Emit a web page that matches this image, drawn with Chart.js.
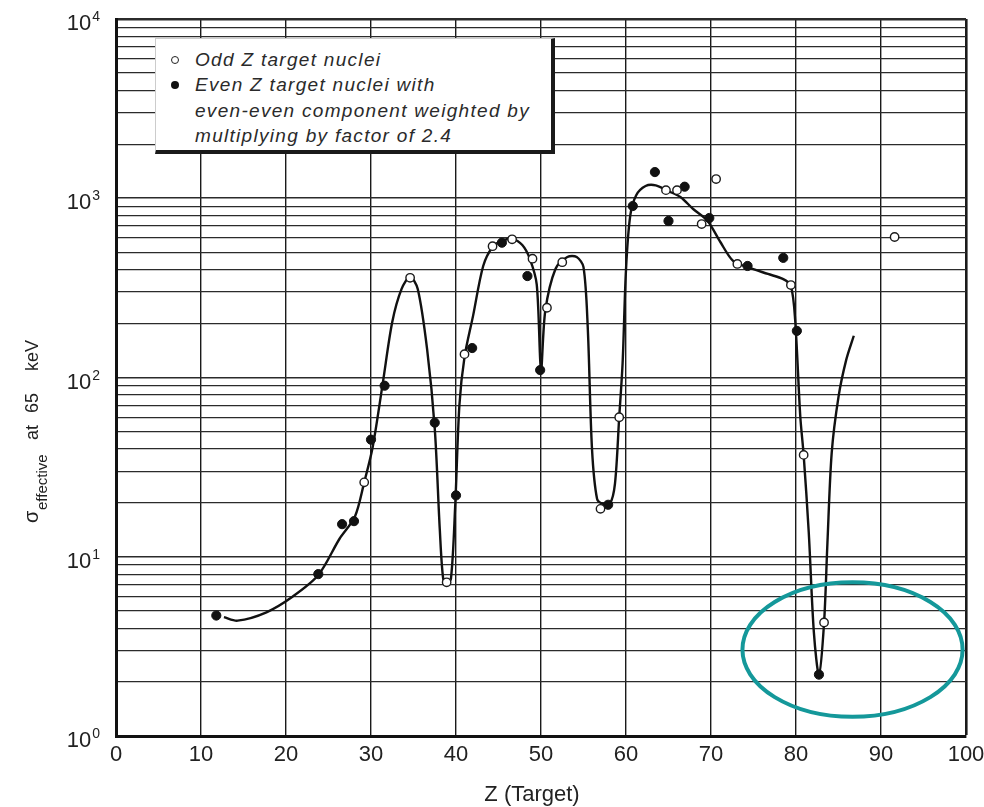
<!DOCTYPE html>
<html>
<head>
<meta charset="utf-8">
<title>Effective cross section vs Z</title>
<script src="https://cdn.jsdelivr.net/npm/chart.js@4.4.0/dist/chart.umd.min.js"></script>
<style>
    html, body { margin: 0; padding: 0; background: #fff; }
    #wrap { position: relative; width: 984px; height: 807px; overflow: hidden; }
    #legend {
        position: absolute; left: 155px; top: 38px; width: 400px; height: 116px;
        box-sizing: border-box; background: #fff;
        border-left: 1px solid #ccc; border-top: 1px solid #ccc;
        border-right: 4px solid #1a1a1a; border-bottom: 4px solid #1a1a1a;
        padding: 8px 0 0 39px;
        font: italic 19px "Liberation Sans", Arial, sans-serif;
        letter-spacing: 1.3px; line-height: 25.3px; color: #2a2a2a;
    }
    #legend .row { position: relative; white-space: nowrap; }
    #legend .mk {
        position: absolute; left: -24px; top: 9px; width: 8px; height: 8px;
        box-sizing: border-box; border-radius: 50%;
    }
    #legend .open { border: 1.5px solid #222; background: #fff; }
    #legend .filled { background: #111; }
</style>
</head>
<body>
<div id="wrap">
    <canvas id="chart" width="984" height="807"></canvas>
    <div id="legend">
        <div class="row"><span class="mk open"></span>Odd Z target nuclei</div>
        <div class="row"><span class="mk filled"></span>Even Z target nuclei with</div>
        <div class="row">even-even component weighted by</div>
        <div class="row">multiplying by factor of 2.4</div>
    </div>
</div>
<script>
// odd Z targets (open circles)
const oddZ = [29.2, 34.6, 38.9, 41.0, 44.3, 46.6, 49.0, 50.7, 52.5, 57.0, 59.2, 64.7, 66.0, 68.9, 70.6, 73.1, 79.4, 80.9, 83.3, 91.6];
const oddSigma = [26, 360, 7.2, 135, 540, 590, 460, 245, 440, 18.5, 60, 1110, 1110, 718, 1280, 430, 328, 37, 4.3, 608];

// even Z targets, even-even component x 2.4 (filled circles)
const evenZ = [11.8, 23.8, 26.6, 28.0, 30.0, 31.6, 37.5, 40.0, 41.9, 45.4, 48.4, 49.9, 57.9, 60.8, 63.4, 65.0, 66.9, 69.8, 74.3, 78.5, 80.1, 82.7];
const evenSigma = [4.7, 8.0, 15.2, 15.8, 45, 90, 56, 22, 146, 565, 368, 110, 19.5, 905, 1400, 747, 1160, 776, 419, 465, 182, 2.2];

// hand-drawn fit curve
const curveZ = [12.7, 14.3, 17.7, 20.8, 23.8, 26.3, 28.1, 29.2, 30.2, 31.4, 32.5, 33.6, 34.6, 35.5, 36.6, 37.5, 38.1, 38.5,
    38.9, 39.4, 39.9, 40.4, 41.0, 42.0, 43.2, 44.3, 45.4, 46.6, 47.8, 48.7, 49.5, 50.0, 50.5, 51.7, 53.1, 54.2, 55.0, 55.5,
    56.0, 56.6, 57.3, 58.1, 58.7, 59.2, 59.6, 60.0, 60.5, 61.2, 62.3, 63.5, 64.9, 66.4, 67.9, 69.6, 71.1, 72.6,
    74.3, 76.7, 78.5, 79.4, 79.9, 80.5, 80.9, 81.5, 82.1, 82.7, 83.3, 83.7, 84.2, 85.0, 85.9, 86.8];
const curveSigma = [4.6, 4.4, 4.9, 6.0, 7.9, 12.6, 16.7, 26, 41, 94, 204, 312, 364, 312, 144, 52, 14, 7.5,
    7.2, 7.5, 19, 70, 130, 220, 419, 535, 578, 593, 548, 458, 330, 110, 235, 403, 470, 470, 413, 190,
    40, 21, 19.7, 19.7, 25.5, 60, 120, 400, 800, 1040, 1170, 1180, 1100, 1016, 871, 747, 570, 447,
    413, 378, 354, 324, 210, 61, 37, 13.7, 3.8, 2.2, 4.27, 12, 38, 78, 125, 171];

// axes
const xTickValues = [0, 10, 20, 30, 40, 50, 60, 70, 80, 90, 100];
const yDecades = [1, 10, 100, 1000, 10000];
const yExponents = ['0', '1', '2', '3', '4'];
const yMinorSteps = [1, 2, 3, 4, 5, 6, 7, 8, 9];

// teal ring marking the Pb dip (data units)
const ringZ = [73.7, 99.6];
const ringSigma = [1.28, 7.2];

const FONT = '"Liberation Sans", Arial, sans-serif';

function toPoints(xs, ys) {
    return xs.map((x, i) => ({ x: x, y: ys[i] }));
}

const yGridValues = [];
yDecades.slice(0, -1).forEach(d => yMinorSteps.forEach(s => yGridValues.push(d * s)));
yGridValues.push(yDecades[yDecades.length - 1]);

const paperDecor = {
    id: 'paperDecor',
    afterDraw(chart) {
        const ctx = chart.ctx;
        const x = chart.scales.x;
        const y = chart.scales.y;
        ctx.save();
        ctx.fillStyle = '#222';

        // y tick labels 10^n
        const right = x.left - 16;
        yDecades.forEach((v, i) => {
            const py = y.getPixelForValue(v);
            ctx.font = '14px ' + FONT;
            ctx.textAlign = 'right';
            ctx.textBaseline = 'alphabetic';
            const ew = ctx.measureText(yExponents[i]).width;
            ctx.fillText(yExponents[i], right, py + 2);
            ctx.font = '22px ' + FONT;
            ctx.fillText('10', right - ew - 1, py + 11);
        });

        // x axis title
        ctx.font = '22px ' + FONT;
        ctx.textAlign = 'center';
        ctx.fillText('Z (Target)', 532, 801);

        // y axis title, rotated, with subscript
        ctx.translate(38, 523);
        ctx.rotate(-Math.PI / 2);
        ctx.textAlign = 'left';
        ctx.font = '20px ' + FONT;
        ctx.fillText('\u03c3', 0, 0);
        ctx.font = '15px ' + FONT;
        ctx.fillText('effective', 13, 9);
        ctx.font = '18px ' + FONT;
        ctx.fillText('at', 83, 0);
        ctx.fillText('65', 110, 0);
        ctx.fillText('keV', 152, 0);
        ctx.restore();

        // annotation ring
        const x1 = x.getPixelForValue(ringZ[0]);
        const x2 = x.getPixelForValue(ringZ[1]);
        const y1 = y.getPixelForValue(ringSigma[0]);
        const y2 = y.getPixelForValue(ringSigma[1]);
        ctx.save();
        ctx.beginPath();
        ctx.ellipse((x1 + x2) / 2, (y1 + y2) / 2, Math.abs(x2 - x1) / 2, Math.abs(y1 - y2) / 2, 0, 0, Math.PI * 2);
        ctx.strokeStyle = '#14989a';
        ctx.lineWidth = 4;
        ctx.stroke();
        ctx.restore();
    }
};

new Chart(document.getElementById('chart'), {
    type: 'line',
    data: {
        datasets: [
            {
                label: 'Odd Z target nuclei',
                data: toPoints(oddZ, oddSigma),
                showLine: false,
                pointRadius: 4.2,
                pointBackgroundColor: '#fff',
                pointBorderColor: '#1a1a1a',
                pointBorderWidth: 1.4
            },
            {
                label: 'Even Z target nuclei',
                data: toPoints(evenZ, evenSigma),
                showLine: false,
                pointRadius: 4.6,
                pointBackgroundColor: '#111',
                pointBorderColor: '#111',
                pointBorderWidth: 1
            },
            {
                label: 'fit',
                data: toPoints(curveZ, curveSigma),
                borderColor: '#111',
                borderWidth: 2.4,
                pointRadius: 0,
                tension: 0.3,
                fill: false
            }
        ]
    },
    options: {
        responsive: false,
        animation: false,
        layout: { padding: { top: 19, right: 18, left: 0, bottom: 0 } },
        plugins: {
            legend: { display: false },
            tooltip: { enabled: false }
        },
        scales: {
            x: {
                type: 'linear',
                min: 0,
                max: 100,
                afterFit: s => { s.height = 71; s.paddingLeft = 0; s.paddingRight = 0; },
                afterBuildTicks: s => { s.ticks = xTickValues.map(v => ({ value: v })); },
                ticks: {
                    autoSkip: false,
                    maxRotation: 0,
                    padding: 6,
                    color: '#222',
                    font: { family: FONT, size: 22 }
                },
                grid: {
                    color: '#1a1a1a',
                    lineWidth: c => (c.tick && c.tick.value === 100 ? 2.6 : 1.4),
                    drawTicks: false
                },
                border: { display: true, color: '#111', width: 3 }
            },
            y: {
                type: 'logarithmic',
                min: 1,
                max: 10000,
                afterFit: s => { s.width = 116; s.paddingTop = 0; s.paddingBottom = 0; },
                afterBuildTicks: s => { s.ticks = yGridValues.map(v => ({ value: v })); },
                ticks: { display: false, autoSkip: false },
                grid: {
                    color: '#2b2b2b',
                    lineWidth: c => {
                        const v = c.tick ? c.tick.value : 0;
                        if (v === 10000) return 2.6;
                        return yDecades.includes(v) ? 1.6 : 1.15;
                    },
                    drawTicks: false
                },
                border: { display: true, color: '#111', width: 3 }
            }
        }
    },
    plugins: [paperDecor]
});
</script>
</body>
</html>
